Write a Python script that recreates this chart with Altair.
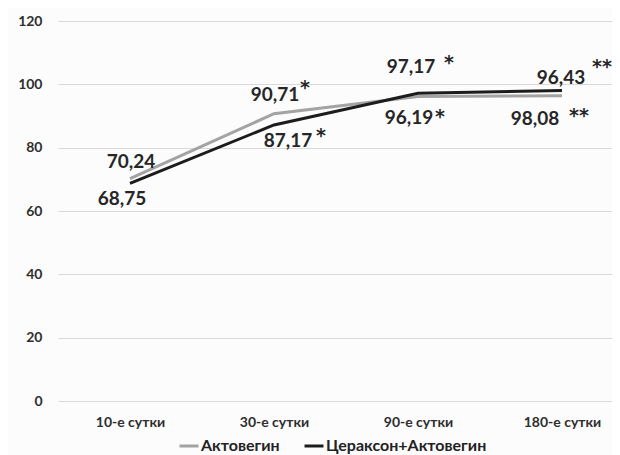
import altair as alt
import pandas as pd

categories = ["10-е сутки", "30-е сутки", "90-е сутки", "180-е сутки"]
series_names = ["Актовегин", "Цераксон+Актовегин"]
aktovegin = [70.24, 90.71, 96.19, 96.43]
ceraxon_aktovegin = [68.75, 87.17, 97.17, 98.08]
significance = ["", "*", "*", "**"]
y_ticks = [0, 20, 40, 60, 80, 100, 120]
colors = ["#a3a3a3", "#1c1c1c"]

rows = []
for s, vals in zip(series_names, [aktovegin, ceraxon_aktovegin]):
    for c, v, m in zip(categories, vals, significance):
        rows.append({"cat": c, "series": s, "value": v,
                     "label": f"{v:.2f}".replace(".", ","), "mark": m})
df = pd.DataFrame(rows)

# label placement (dx, dy) for number and for asterisks, per series/category
STAR_SHIFT = 4
label_style = {
    ("Актовегин", 0): ((1, -17), None),
    ("Актовегин", 1): ((1, -19), (31, -30)),
    ("Актовегин", 2): ((-9, 22), (22, 17)),
    ("Актовегин", 3): ((-1, -18), (40, -33)),
    ("Цераксон+Актовегин", 0): ((-8, 16), None),
    ("Цераксон+Актовегин", 1): ((14, 16), (47, 7)),
    ("Цераксон+Актовегин", 2): ((-7, -26), (31, -34)),
    ("Цераксон+Актовегин", 3): ((-27, 29), (17, 22)),
}

FONT = "Lato"
STAR_FONT = "DejaVu Sans"

x_enc = alt.X("cat:N", sort=categories, title=None,
              scale=alt.Scale(type="point", padding=0.4236, align=0.59),
              axis=alt.Axis(labelFont=FONT, labelFontWeight="bold", labelFontSize=14,
                            labelColor="#2e2e2e", labelPadding=14, ticks=False,
                            domain=False, grid=False, labelAngle=0))
y_enc = alt.Y("value:Q", title=None,
              scale=alt.Scale(domain=[0, 120]),
              axis=alt.Axis(values=y_ticks, labelFont=FONT, labelFontWeight="bold",
                            labelFontSize=14, labelColor="#2e2e2e", labelPadding=16,
                            ticks=False, domain=False, grid=True, gridColor="#d9d9d9",
                            gridWidth=1.2))

lines = alt.Chart(df).mark_line(strokeWidth=3).encode(
    x=x_enc, y=y_enc,
    color=alt.Color("series:N", scale=alt.Scale(domain=series_names, range=colors),
                    legend=alt.Legend(title=None, orient="none", legendX=120, legendY=414,
                                      direction="horizontal", symbolType="stroke",
                                      symbolSize=361, symbolStrokeWidth=3,
                                      labelFont=FONT, labelFontWeight="bold",
                                      labelFontSize=16, labelColor="#222222",
                                      labelLimit=400,
                                      labelOffset=1, columnPadding=18)),
    order=alt.Order("series:N", sort="ascending"),
)

layers = [lines]
for (s, ci), (num_off, star_off) in label_style.items():
    sub = df[(df.series == s) & (df.cat == categories[ci])]
    layers.append(alt.Chart(sub).mark_text(
        font=FONT, fontWeight="bold", fontSize=19, color="#262626",
        dx=num_off[0], dy=num_off[1]).encode(x=x_enc, y=y_enc, text="label:N"))
    if star_off is not None:
        layers.append(alt.Chart(sub).mark_text(
            font=STAR_FONT, fontWeight="bold", fontSize=19, color="#262626",
            dx=star_off[0], dy=star_off[1] + STAR_SHIFT).encode(x=x_enc, y=y_enc, text="mark:N"))

chart = alt.layer(*layers).properties(
    width=554, height=380,
    autosize=alt.AutoSizeParams(type="none"),
    padding={"left": 50, "top": 13, "right": 0, "bottom": 54},
    background="#fcfcfc",
).configure_view(stroke=None)

chart.save("out.html", embed_options={"renderer": "svg", "actions": False})
